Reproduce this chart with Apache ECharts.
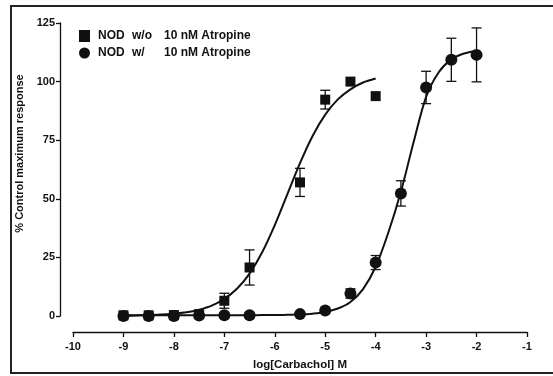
<!DOCTYPE html>
<html>
<head>
<meta charset="utf-8">
<script src="https://cdn.jsdelivr.net/npm/echarts@6/dist/echarts.min.js"></script>
<style>
  html, body { margin: 0; padding: 0; background: #fff; }
  #chart { width: 553px; height: 376px; }
</style>
</head>
<body>
<div id="chart"></div>
<script>
// squares: NOD w/o atropine
var doseWo = [-9, -8.5, -8, -7.5, -7, -6.5, -5.5, -5, -4.5, -4];
var respWo = [0.3, 0.3, 0.4, 0.8, 6.5, 20.7, 57, 92.3, 100, 93.8];
var semWo = [0, 0, 0, 0, 3.2, 7.5, 6, 4, 0, 0];

// circles: NOD w/ atropine
var doseWith = [-9, -8.5, -8, -7.5, -7, -6.5, -5.5, -5, -4.5, -4, -3.5, -3, -2.5, -2];
var respWith = [0, 0, 0, 0.2, 0.3, 0.3, 0.8, 2.3, 9.6, 22.8, 52.3, 97.5, 109.3, 111.4];
var semWith = [0, 0, 0, 0, 0, 0, 0, 0, 2, 3, 5.4, 6.9, 9.2, 11.5];

// fitted curves
var curveXWo = [-9, -8.75, -8.5, -8.25, -8, -7.75, -7.5, -7.25, -7, -6.75, -6.5, -6.25, -6, -5.75, -5.5, -5.25, -5, -4.75, -4.5, -4.25, -4];
var curveYWo = [0.1, 0.2, 0.4, 0.6, 1.0, 1.6, 2.7, 4.4, 7.3, 11.6, 18.1, 27.2, 38.8, 52, 65.2, 76.8, 85.9, 92.4, 96.7, 99.6, 101.3];
var curveXWith = [-9, -8.75, -8.5, -8.25, -8, -7.75, -7.5, -7.25, -7, -6.75, -6.5, -6.25, -6, -5.75, -5.5, -5.25, -5, -4.75, -4.5, -4.25, -4, -3.75, -3.5, -3.25, -3, -2.75, -2.5, -2.25, -2];
var curveYWith = [0.3, 0.3, 0.3, 0.3, 0.3, 0.3, 0.3, 0.3, 0.3, 0.3, 0.3, 0.4, 0.4, 0.5, 0.6, 1.0, 1.7, 3.2, 6.0, 11.5, 21, 35.5, 53, 74, 93.5, 104, 109.5, 112, 113.2];

var xTicks = [-10, -9, -8, -7, -6, -5, -4, -3, -2, -1];
var yTicks = [0, 25, 50, 75, 100, 125];

var nameWo = 'NOD w/o 10 nM Atropine';
var nameWith = 'NOD w/ 10 nM Atropine';

var font = "'Liberation Sans', Arial, sans-serif";
var ink = '#111';

function zip(a, b, c) {
  return a.map(function (v, i) { return c ? [v, b[i], c[i]] : [v, b[i]]; });
}

function errorBars(params, api) {
  var x = api.value(0), y = api.value(1), e = api.value(2);
  if (!e) return null;
  var top = api.coord([x, y + e]);
  var bot = api.coord([x, y - e]);
  var w = 5;
  var st = { stroke: ink, lineWidth: 1.3 };
  return {
    type: 'group',
    children: [
      { type: 'line', shape: { x1: top[0], y1: top[1], x2: bot[0], y2: bot[1] }, style: st },
      { type: 'line', shape: { x1: top[0] - w, y1: top[1], x2: top[0] + w, y2: top[1] }, style: st },
      { type: 'line', shape: { x1: bot[0] - w, y1: bot[1], x2: bot[0] + w, y2: bot[1] }, style: st }
    ]
  };
}

var chart = echarts.init(document.getElementById('chart'));
var option = {
  animation: false,
  backgroundColor: '#fff',
  grid: { left: 73, right: 26, top: 23, bottom: 59 },
  graphic: [{
    type: 'rect',
    shape: { x: 11, y: 6, width: 560, height: 367 },
    style: { fill: 'none', stroke: '#222', lineWidth: 2 },
    silent: true
  }],
  legend: {
    orient: 'vertical',
    left: 74,
    top: 25,
    itemWidth: 11,
    itemHeight: 12,
    itemGap: 5,
    data: [
      { name: nameWo, icon: 'rect' },
      { name: nameWith, icon: 'circle' }
    ],
    formatter: function (name) {
      var p = name.split(' ');
      return '{a|' + p[0] + '}{b|' + p[1] + '}{c|' + p.slice(2).join(' ') + '}';
    },
    textStyle: {
      fontFamily: font, fontWeight: 'bold', fontSize: 12, color: ink,
      padding: [0, 0, 0, 3],
      rich: {
        a: { width: 34, fontFamily: font, fontWeight: 'bold', fontSize: 12, color: ink },
        b: { width: 32, fontFamily: font, fontWeight: 'bold', fontSize: 12, color: ink },
        c: { fontFamily: font, fontWeight: 'bold', fontSize: 12, color: ink }
      }
    }
  },
  xAxis: {
    type: 'value',
    min: -10, max: -1, interval: 1,
    offset: 16,
    name: 'log[Carbachol] M',
    nameLocation: 'middle',
    nameGap: 27,
    nameTextStyle: { fontFamily: font, fontWeight: 'bold', fontSize: 11.5, color: ink },
    axisLine: { onZero: false, lineStyle: { color: ink, width: 1.3 } },
    axisTick: { length: 5, lineStyle: { color: ink, width: 1.3 } },
    axisLabel: {
      margin: 9,
      fontFamily: font, fontWeight: 'bold', fontSize: 11, color: ink,
      customValues: xTicks
    },
    splitLine: { show: false }
  },
  yAxis: {
    type: 'value',
    min: 0, max: 125, interval: 25,
    offset: 13,
    name: '% Control maximum response',
    nameLocation: 'middle',
    nameGap: 28,
    nameTextStyle: {
      fontFamily: font, fontWeight: 'bold', fontSize: 11, color: ink,
      padding: [0, 0, 0, 32]
    },
    axisLine: { show: true, lineStyle: { color: ink, width: 1.3 } },
    axisTick: { show: true, length: 4, lineStyle: { color: ink, width: 1.3 } },
    axisLabel: {
      margin: 5,
      fontFamily: font, fontWeight: 'bold', fontSize: 11, color: ink,
      customValues: yTicks
    },
    splitLine: { show: false }
  },
  series: [
    {
      type: 'line', data: zip(curveXWo, curveYWo), smooth: 0.3,
      showSymbol: false, lineStyle: { color: ink, width: 2 }, silent: true, z: 2
    },
    {
      type: 'line', data: zip(curveXWith, curveYWith), smooth: 0.3,
      showSymbol: false, lineStyle: { color: ink, width: 2 }, silent: true, z: 2
    },
    {
      type: 'custom', renderItem: errorBars, data: zip(doseWo, respWo, semWo), z: 3, silent: true
    },
    {
      type: 'custom', renderItem: errorBars, data: zip(doseWith, respWith, semWith), z: 3, silent: true
    },
    {
      name: nameWo, type: 'scatter', symbol: 'rect', symbolSize: 10,
      data: zip(doseWo, respWo), itemStyle: { color: ink, opacity: 1 }, z: 4
    },
    {
      name: nameWith, type: 'scatter', symbol: 'circle', symbolSize: 12,
      data: zip(doseWith, respWith), itemStyle: { color: ink, opacity: 1 }, z: 5
    }
  ]
};
chart.setOption(option);
</script>
</body>
</html>
